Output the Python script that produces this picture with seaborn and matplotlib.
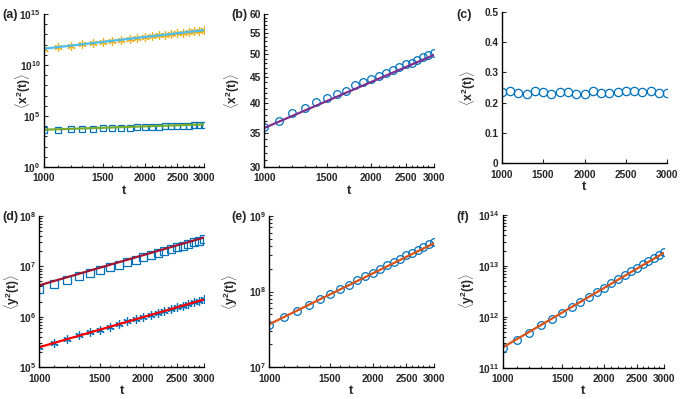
import numpy as np
import pandas as pd
import seaborn as sns
import matplotlib
matplotlib.use("Agg")
from matplotlib import pyplot as plt
from matplotlib import ticker

sns.set_style("ticks")
plt.rcParams['font.family'] = ['Liberation Sans', 'DejaVu Sans']
plt.rcParams['font.weight'] = 'bold'
plt.rcParams['mathtext.fontset'] = 'custom'
plt.rcParams['mathtext.rm'] = 'Liberation Sans:bold'
plt.rcParams['mathtext.bf'] = 'Liberation Sans:bold'
plt.rcParams['mathtext.it'] = 'Liberation Sans:bold'

t = [1000, 1100, 1200, 1300, 1400, 1500, 1600, 1700, 1800, 1900, 2000,
     2100, 2200, 2300, 2400, 2500, 2600, 2700, 2800, 2900, 3000]
t_fit = [1000, 3000]

# (a)
a_star = [4.0e11, 5.8e11, 7.9e11, 1.07e12, 1.41e12, 1.82e12, 2.34e12, 2.95e12, 3.6e12, 4.5e12,
          5.4e12, 6.5e12, 7.8e12, 9.1e12, 1.07e13, 1.26e13, 1.45e13, 1.7e13, 1.95e13, 2.2e13, 2.5e13]
a_star_fit = [3.9e11, 2.6e13]
a_sq = [4000, 4400, 4800, 5200, 5600, 6000, 6500, 6900, 7400, 7800, 8300,
        8700, 9100, 9500, 10000, 10500, 11000, 11200, 11700, 12300, 12600]
a_sq_fit = [4500, 1.5e4]

# (b)
b_circ = [36.0, 37.0, 38.3, 39.2, 40.2, 41.0, 41.7, 42.3, 43.5, 44.1, 44.6,
          45.2, 45.9, 46.5, 47.1, 47.8, 48.1, 48.7, 49.4, 49.9, 50.2]
b_fit = [35.8, 49.8]

# (c)
c_circ = [0.235, 0.237, 0.231, 0.230, 0.239, 0.234, 0.228, 0.236, 0.235, 0.229, 0.229,
          0.239, 0.233, 0.231, 0.236, 0.239, 0.237, 0.236, 0.237, 0.233, 0.233]

# (d)
d_sq = [3.6e6, 4.5e6, 5.4e6, 6.3e6, 7.4e6, 8.3e6, 9.5e6, 1.07e7, 1.2e7, 1.35e7, 1.51e7,
        1.66e7, 1.82e7, 2.0e7, 2.19e7, 2.4e7, 2.57e7, 2.75e7, 2.95e7, 3.16e7, 3.39e7]
d_sq_fit = [4.2e6, 3.7e7]
d_star = [2.5e5, 3.0e5, 3.6e5, 4.3e5, 4.9e5, 5.6e5, 6.3e5, 7.2e5, 8.1e5, 8.9e5, 1.0e6,
          1.1e6, 1.2e6, 1.32e6, 1.41e6, 1.55e6, 1.66e6, 1.78e6, 1.95e6, 2.09e6, 2.2e6]
d_star_fit = [2.5e5, 2.2e6]

# (e)
e_circ = [3.6e7, 4.6e7, 5.5e7, 6.6e7, 7.9e7, 9.3e7, 1.07e8, 1.23e8, 1.41e8, 1.58e8, 1.78e8,
          2.0e8, 2.24e8, 2.45e8, 2.7e8, 3.0e8, 3.24e8, 3.55e8, 3.9e8, 4.2e8, 4.5e8]
e_fit = [3.7e7, 4.3e8]

# (f)
f_circ = [2.4e11, 3.5e11, 4.9e11, 6.8e11, 9.1e11, 1.2e12, 1.55e12, 1.95e12, 2.45e12, 3.1e12, 3.7e12,
          4.6e12, 5.5e12, 6.6e12, 7.8e12, 9.1e12, 1.07e13, 1.23e13, 1.45e13, 1.66e13, 1.86e13]
f_fit = [2.5e11, 1.8e13]

BLUE = '#0072BD'
ASTER = (6, 2, 0)

fig = plt.figure(figsize=(6.85, 3.99), dpi=100)
pos = {
    'a': [0.0642, 0.5815, 0.2336, 0.3835],
    'b': [0.3858, 0.5815, 0.2473, 0.3835],
    'c': [0.7324, 0.5907, 0.2418, 0.3800],
    'd': [0.0574, 0.0794, 0.2404, 0.3800],
    'e': [0.3931, 0.0794, 0.2400, 0.3800],
    'f': [0.7339, 0.0784, 0.2350, 0.3827],
}
# right edge of the rotated y label, in axes fraction
ylab_x = {'a': -0.07, 'b': -0.13, 'c': -0.143, 'd': -0.105, 'e': -0.178, 'f': -0.16}
axs = {k: fig.add_axes(v) for k, v in pos.items()}


def pts(ax, y, marker, color, ms):
    sns.lineplot(x=t, y=y, ax=ax, marker=marker, linestyle='', estimator=None,
                 markerfacecolor='none', markeredgecolor=color, markeredgewidth=0.9,
                 markersize=ms, color=color)


def fit(ax, y, color):
    sns.lineplot(x=t_fit, y=y, ax=ax, color=color, linewidth=1.6, estimator=None)


def style(ax, key, label, logx=True):
    sns.despine(ax=ax)
    for s in ['left', 'bottom']:
        ax.spines[s].set_linewidth(1.0)
        ax.spines[s].set_color('black')
    ax.tick_params(which='both', direction='in', labelsize=7.3, width=0.8)
    ax.tick_params(axis='x', pad=4.5)
    ax.tick_params(axis='y', pad=2.5)
    ax.tick_params(which='major', length=3)
    ax.tick_params(which='minor', length=1.8)
    ax.set_xlim(1000, 3000)
    if logx:
        ax.set_xscale('log')
        ax.xaxis.set_major_locator(ticker.FixedLocator([1000, 1500, 2000, 2500, 3000]))
        ax.xaxis.set_minor_locator(ticker.FixedLocator(t))
        ax.xaxis.set_minor_formatter(ticker.NullFormatter())
    else:
        ax.set_xticks([1000, 1500, 2000, 2500, 3000])
    ax.xaxis.set_major_formatter(ticker.FuncFormatter(lambda v, p: f'{int(round(v))}'))
    ax.set_xlabel('t', fontsize=9.5, fontweight='bold', labelpad=1)
    ax.set_ylabel(label, fontsize=8.7)
    ax.yaxis.set_label_coords(ylab_x[key], 0.5)
    for lb in ax.get_xticklabels() + ax.get_yticklabels():
        lb.set_fontweight('bold')


XL = r'$\langle\mathbf{x^2(t)}\rangle$'
YL = r'$\langle\mathbf{y^2(t)}\rangle$'


def logy(ax, lo, hi, majors, minors):
    ax.set_yscale('log')
    ax.set_ylim(lo, hi)
    ax.yaxis.set_major_locator(ticker.FixedLocator(majors))
    ax.yaxis.set_minor_locator(ticker.FixedLocator(minors))
    ax.yaxis.set_minor_formatter(ticker.NullFormatter())


def dec_minors(e0, e1):
    return [m * 10.0 ** e for e in range(e0, e1) for m in range(2, 10)]


# (a)
ax = axs['a']
pts(ax, a_star, ASTER, '#EDB120', 6)
pts(ax, a_sq, 's', BLUE, 5)
fit(ax, a_star_fit, '#4DBEEE')
fit(ax, a_sq_fit, '#77AC30')
logy(ax, 1, 1e15, [1, 1e5, 1e10, 1e15], [10.0 ** e for e in range(0, 16)])
ax.yaxis.set_major_formatter(ticker.LogFormatterMathtext())
style(ax, 'a', XL)

# (b)
ax = axs['b']
pts(ax, b_circ, 'o', BLUE, 5.5)
fit(ax, b_fit, '#7E2F8E')
logy(ax, 30, 60, [30, 35, 40, 45, 50, 55, 60], list(range(30, 61)))
ax.yaxis.set_major_formatter(ticker.FuncFormatter(lambda v, p: f'{int(round(v))}'))
style(ax, 'b', XL)

# (c)
ax = axs['c']
pts(ax, c_circ, 'o', BLUE, 6)
ax.set_ylim(0, 0.5)
ax.set_yticks([0, 0.1, 0.2, 0.3, 0.4, 0.5])
ax.yaxis.set_major_formatter(ticker.FuncFormatter(lambda v, p: '0' if v == 0 else f'{v:.1f}'))
style(ax, 'c', XL, logx=False)

# (d)
ax = axs['d']
pts(ax, d_sq, 's', BLUE, 5.5)
pts(ax, d_star, ASTER, BLUE, 6)
fit(ax, d_sq_fit, '#A2142F')
fit(ax, d_star_fit, '#FF0000')
logy(ax, 1e5, 1e8, [1e5, 1e6, 1e7, 1e8], dec_minors(5, 8))
ax.yaxis.set_major_formatter(ticker.LogFormatterMathtext())
style(ax, 'd', YL)

# (e)
ax = axs['e']
pts(ax, e_circ, 'o', BLUE, 5.5)
fit(ax, e_fit, '#D95319')
logy(ax, 1e7, 1e9, [1e7, 1e8, 1e9], dec_minors(7, 9))
ax.yaxis.set_major_formatter(ticker.LogFormatterMathtext())
style(ax, 'e', YL)

# (f)
ax = axs['f']
pts(ax, f_circ, 'o', BLUE, 5.5)
fit(ax, f_fit, '#D95319')
logy(ax, 1e11, 1e14, [1e11, 1e12, 1e13, 1e14], dec_minors(11, 14))
ax.yaxis.set_major_formatter(ticker.LogFormatterMathtext())
style(ax, 'f', YL)

for lab, (x, y) in {'(a)': (0.004, 0.978), '(b)': (0.338, 0.978), '(c)': (0.666, 0.978),
                    '(d)': (0.004, 0.47), '(e)': (0.338, 0.47), '(f)': (0.666, 0.47)}.items():
    fig.text(x, y, lab, fontsize=9, fontweight='bold', va='top', ha='left')

fig.savefig('out.png', dpi=100)
